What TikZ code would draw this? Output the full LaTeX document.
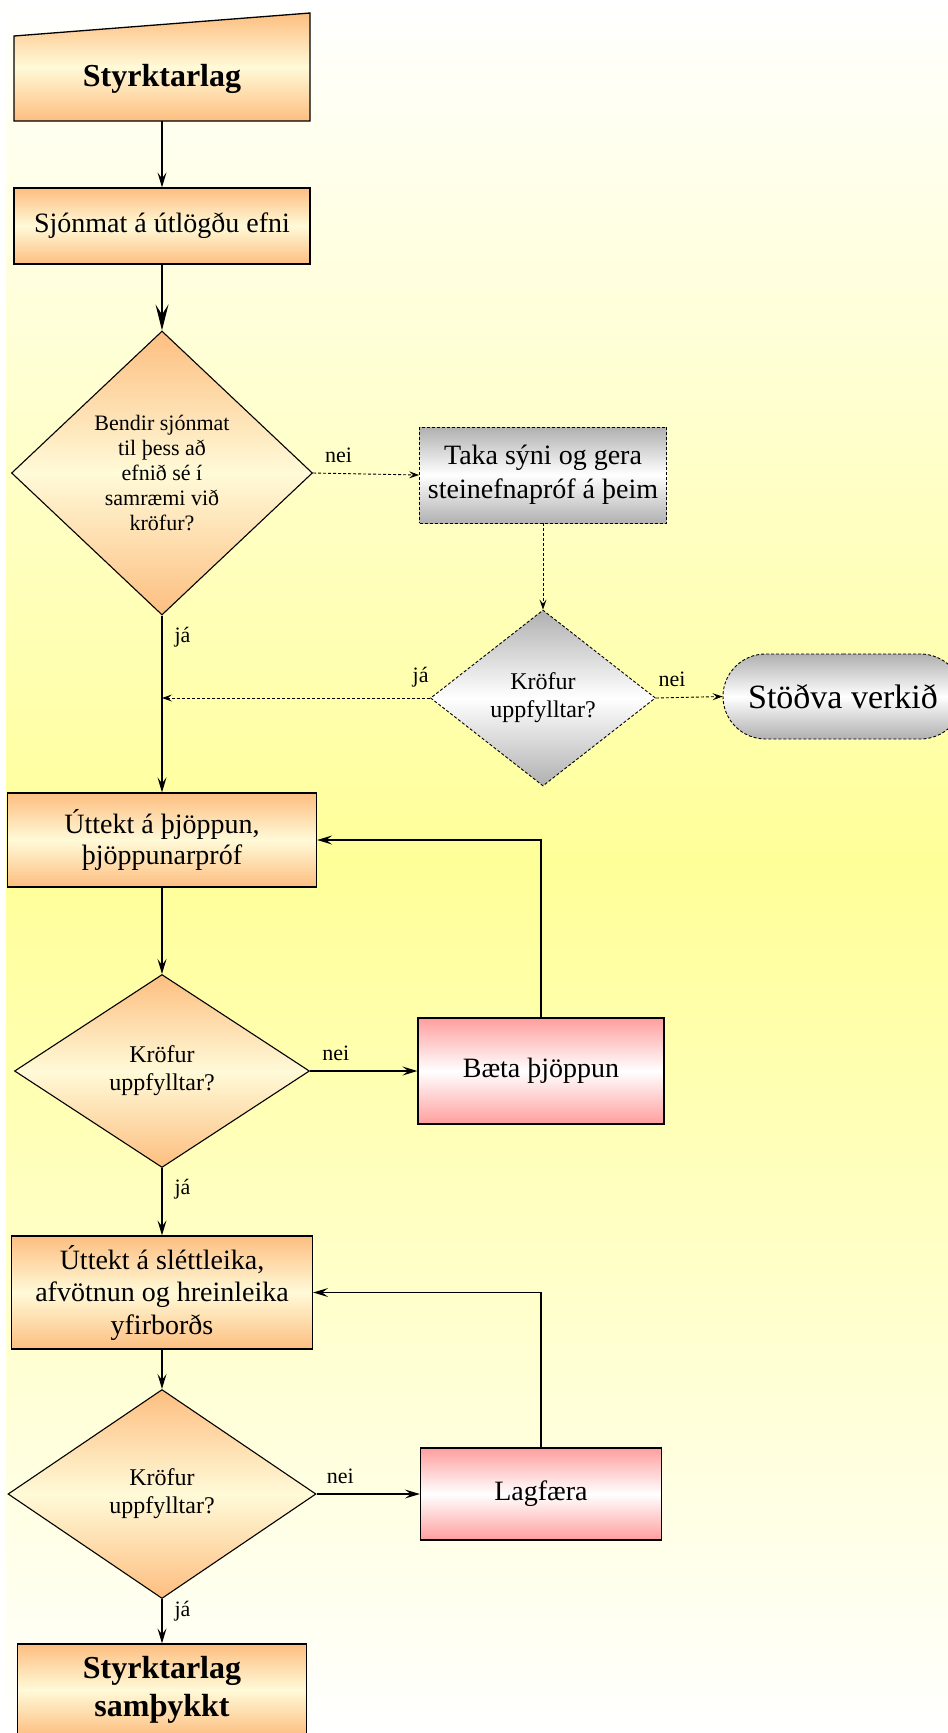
\documentclass[tikz,border=0pt]{standalone}
\usepackage{fontspec}
\setmainfont{Liberation Serif}
\usepackage{tikz}
\usetikzlibrary{arrows.meta}
\usetikzlibrary{shapes.geometric}
\usetikzlibrary{shapes.misc}
\definecolor{bgyel}{RGB}{255, 255, 153}
\definecolor{oran}{RGB}{253, 190, 128}
\definecolor{crem}{RGB}{255, 250, 216}
\definecolor{mgrey}{RGB}{176, 176, 176}
\definecolor{mpink}{RGB}{255, 158, 158}
\tikzset{box/.style = {rectangle, draw, line width = 1.3pt, top color = oran, bottom color = oran, middle color = crem, inner sep = 0, align = center, font = \fontsize{28}{31}\selectfont}}
\tikzset{pinkbox/.style = {box, top color = mpink, bottom color = mpink, middle color = white}}
\tikzset{greybox/.style = {box, line width = 0.9pt, dash pattern = on 3pt off 2pt, top color = mgrey, bottom color = mgrey, middle color = white}}
\tikzset{decision/.style = {box, diamond, line width = 1.1pt, font = \fontsize{24}{28}\selectfont}}
\tikzset{flow/.style = {line width = 1.2pt, -{Stealth[length = 15pt, width = 9pt, inset = 6pt]}}}
\tikzset{dflow/.style = {line width = 0.9pt, dash pattern = on 3pt off 2pt, -{Stealth[length = 10pt, width = 7pt, inset = 4pt]}}}
\tikzset{lbl/.style = {font = \fontsize{22}{25}\selectfont, inner sep = 2pt}}

\begin{document}
\begin{tikzpicture}[x = 1pt, y = -1pt]
    \useasboundingbox (0, 0) rectangle (948, 1733);
    \shade [top color = white, bottom color = white, middle color = bgyel] (0, 0) rectangle (948, 1733);
    \fill [white] (0, 0) rectangle (6, 1733);

    % left column
    \shade [draw, line width = 1.3pt, top color = oran, bottom color = oran, middle color = crem]
        (14, 121) -- (14, 36) -- (310, 13) -- (310, 121) -- cycle;
    \node [inner sep = 0, minimum width = 296, minimum height = 85, font = \bfseries\fontsize{32}{36}\selectfont] (start) at (162, 78.5) {\raisebox{-3pt}{Styrktarlag}};
    \node [box, minimum width = 296, minimum height = 76] (sjon) at (162, 226) {\raisebox{-5pt}{Sjónmat á útlögðu efni}};
    \node [decision, minimum width = 301, minimum height = 284, font = \fontsize{22}{25}\selectfont] (bendir) at (162, 473) {Bendir sjónmat\\til þess að\\efnið sé í\\samræmi við\\kröfur?};
    \node [box, minimum width = 309, minimum height = 94] (thjop) at (162, 840) {Úttekt á þjöppun,\\þjöppunarpróf};
    \node [decision, minimum width = 295, minimum height = 193] (krofb) at (162, 1071) {Kröfur\\uppfylltar?};
    \node [box, minimum width = 301, minimum height = 113, font = \fontsize{28}{32.5}\selectfont] (slett) at (162, 1292.5) {Úttekt á sléttleika,\\afvötnun og hreinleika\\yfirborðs};
    \node [decision, minimum width = 308, minimum height = 209] (krofc) at (162, 1494) {Kröfur\\uppfylltar?};
    \node [box, minimum width = 289, minimum height = 92, font = \bfseries\fontsize{32}{37.5}\selectfont] (sampy) at (162, 1690) {Styrktarlag\\samþykkt};

    % right column
    \node [greybox, minimum width = 247, minimum height = 96, font = \fontsize{28}{34}\selectfont] (taka) at (543, 475) {Taka sýni og gera\\steinefnapróf á þeim};
    \node [greybox, diamond, minimum width = 225, minimum height = 176, font = \fontsize{24}{28}\selectfont] (krofa) at (543, 698) {Kröfur\\uppfylltar?};
    \node [greybox, rounded rectangle, minimum width = 240, minimum height = 85, font = \fontsize{34}{38}\selectfont] (stop) at (843, 696.5) {Stöðva verkið};
    \node [pinkbox, minimum width = 246, minimum height = 106] (baeta) at (541, 1071) {\raisebox{-3pt}{Bæta þjöppun}};
    \node [pinkbox, minimum width = 241, minimum height = 92] (lagf) at (541, 1494) {\raisebox{-4pt}{Lagfæra}};

    \coordinate (join) at (bendir.south |- krofa.west);

    % connectors
    \draw [flow] (start.south) -- (sjon.north);
    \draw [flow, -{Stealth[length = 26pt, width = 13pt, inset = 10pt]}] (sjon.south) -- (bendir.north);
    \draw [dflow] (bendir.east) -- node [lbl, pos = 0.24, above = 8pt] {nei} (taka.west);
    \draw [dflow] (taka.south) -- (krofa.north);
    \draw [dflow] (krofa.west) -- node [lbl, pos = 0.035, above = 8pt] {já} (join);
    \draw [dflow] (krofa.east) -- node [lbl, pos = 0.24, above = 8pt] {nei} (stop.west);
    \draw [flow] (bendir.south) -- node [lbl, pos = 0.12, right = 10pt] {já} (thjop.north);
    \draw [flow] (thjop.south) -- (krofb.north);
    \draw [flow] (krofb.east) -- node [lbl, pos = 0.24, above = 8pt] {nei} (baeta.west);
    \draw [flow] (baeta.north) |- (thjop.east);
    \draw [flow] (krofb.south) -- node [lbl, pos = 0.31, right = 10pt] {já} (slett.north);
    \draw [flow] (slett.south) -- (krofc.north);
    \draw [flow] (krofc.east) -- node [lbl, pos = 0.23, above = 8pt] {nei} (lagf.west);
    \draw [flow] (lagf.north) |- (slett.east);
    \draw [flow] (krofc.south) -- node [lbl, pos = 0.27, right = 10pt] {já} (sampy.north);
\end{tikzpicture}
\end{document}
